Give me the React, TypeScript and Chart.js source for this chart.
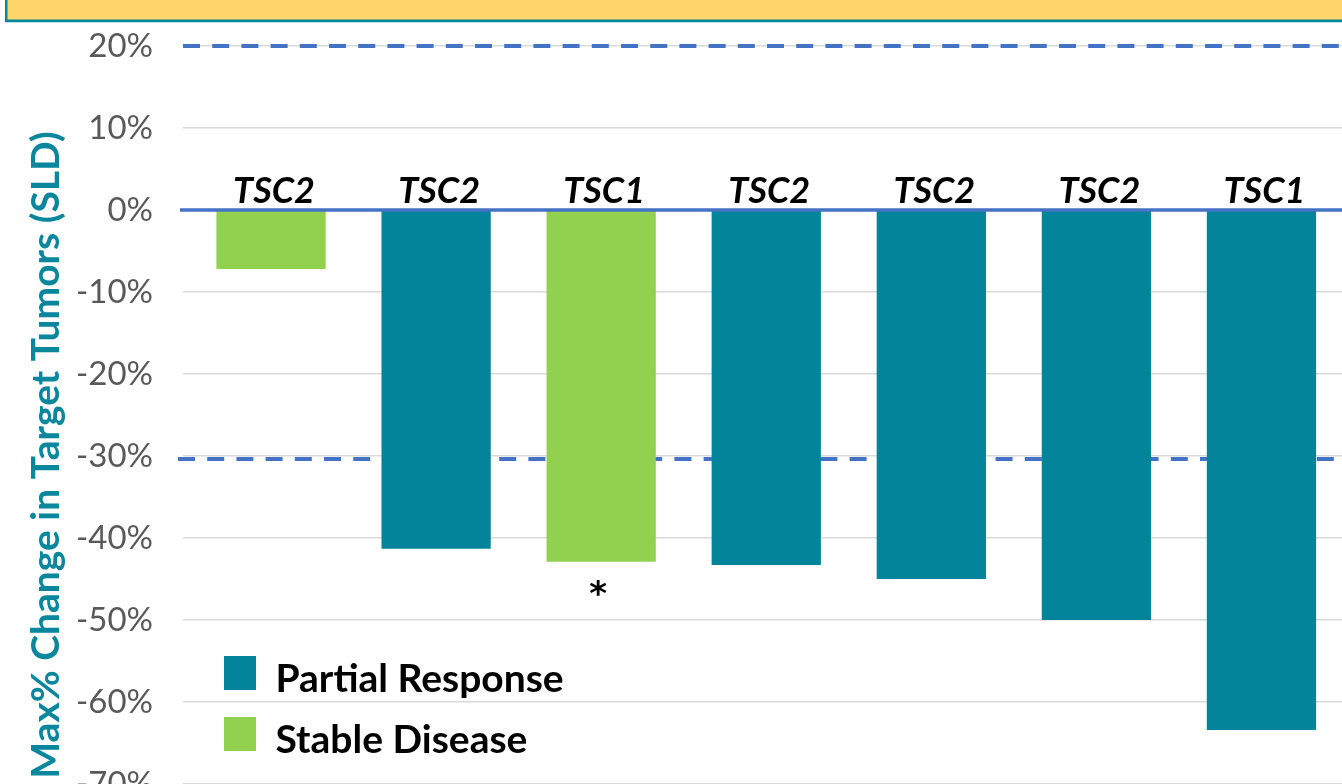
import React, { useEffect, useRef } from "react";
import { Chart, registerables } from "chart.js";

Chart.register(...registerables);

// ---- Data ----
const categories = ["Pt 1", "Pt 2", "Pt 3", "Pt 4", "Pt 5", "Pt 6", "Pt 7"];
const mutationLabels = ["TSC2", "TSC2", "TSC1", "TSC2", "TSC2", "TSC2", "TSC1"];
const partialResponse: (number | null)[] = [null, -41.3, null, -43.3, -45.0, -50.0, -63.4];
const stableDisease: (number | null)[] = [-7.2, null, -42.9, null, null, null, null];
const asteriskFlags = [false, false, true, false, false, false, false];
const legendLabels = ["Partial Response", "Stable Disease"];
const yMin = -70;
const yMax = 20;
const yStep = 10;
const referenceLines = [20, -30];
const yTitle = "Max% Change in Target Tumors (SLD)";

const TEAL = "#03849A";
const GREEN = "#92D050";
const BLUE = "#4472C4";
const FONT = "Lato, 'Open Sans', sans-serif";

const overlayPlugin = {
  id: "overlay",
  beforeDraw(chart: any) {
    const { ctx, width } = chart;
    ctx.save();
    ctx.fillStyle = "#BFE3E8";
    ctx.fillRect(5, 0, width, 23);
    ctx.fillStyle = "#0A8797";
    ctx.fillRect(5, 0, width, 22);
    ctx.fillStyle = "#FFD56C";
    ctx.fillRect(7.5, 0, width, 19.5);
    ctx.restore();
  },
  beforeDatasetsDraw(chart: any) {
    const { ctx, scales, width, chartArea } = chart;
    const y = scales.y;
    ctx.save();
    ctx.strokeStyle = BLUE;
    ctx.lineWidth = 4;
    ctx.setLineDash([17, 12.2]);
    referenceLines.forEach((v) => {
      const py = y.getPixelForValue(v) + (v < 0 ? 3 : 0);
      const startX = v < 0 ? chartArea.left - 10.5 : chartArea.left - 5.5;
      ctx.beginPath();
      ctx.moveTo(startX, py);
      ctx.lineTo(width, py);
      ctx.stroke();
    });
    ctx.restore();
  },
  afterDatasetsDraw(chart: any) {
    const { ctx, scales, width, chartArea } = chart;
    const x = scales.x;
    const y = scales.y;
    ctx.save();
    const y0 = y.getPixelForValue(0);
    ctx.strokeStyle = BLUE;
    ctx.lineWidth = 3.5;
    ctx.beginPath();
    ctx.moveTo(chartArea.left - 8.5, y0);
    ctx.lineTo(width, y0);
    ctx.stroke();

    ctx.fillStyle = "#000";
    ctx.font = `italic bold 36px ${FONT}`;
    ctx.textAlign = "center";
    ctx.textBaseline = "alphabetic";
    mutationLabels.forEach((lab, i) => {
      ctx.fillText(lab, x.getPixelForValue(i) + 3, y0 - 7);
    });

    ctx.font = `bold 34px 'DejaVu Sans', sans-serif`;
    asteriskFlags.forEach((f, i) => {
      if (!f) return;
      const v = (partialResponse[i] ?? stableDisease[i]) as number;
      ctx.fillText("*", x.getPixelForValue(i) - 3, y.getPixelForValue(v) + 43);
    });

    const colors = [TEAL, GREEN];
    ctx.textAlign = "left";
    ctx.font = `bold 39px ${FONT}`;
    legendLabels.forEach((lab, i) => {
      const top = 656 + i * 61;
      ctx.fillStyle = colors[i];
      ctx.fillRect(224, top, 32, 34);
      ctx.fillStyle = "#000";
      ctx.fillText(lab, 275.5, top + 36);
    });

    ctx.translate(59, 455);
    ctx.rotate(-Math.PI / 2);
    ctx.textAlign = "center";
    ctx.fillStyle = "#0A879C";
    ctx.font = `bold 39px ${FONT}`;
    ctx.fillText(yTitle, 0, 0);
    ctx.restore();
  },
};

export default function App() {
  const ref = useRef<HTMLCanvasElement | null>(null);

  useEffect(() => {
    document.body.style.margin = "0";
    document.body.style.overflow = "hidden";
    const canvas = ref.current;
    if (!canvas) return;
    const chart = new Chart(canvas, {
      type: "bar",
      data: {
        labels: categories,
        datasets: [
          {
            label: legendLabels[0],
            data: partialResponse,
            backgroundColor: TEAL,
            borderWidth: 0,
            grouped: false,
            barPercentage: 0.662,
            categoryPercentage: 1,
          } as any,
          {
            label: legendLabels[1],
            data: stableDisease,
            backgroundColor: GREEN,
            borderWidth: 0,
            grouped: false,
            barPercentage: 0.662,
            categoryPercentage: 1,
          } as any,
        ],
      },
      options: {
        responsive: false,
        animation: false,
        devicePixelRatio: 1,
        layout: { padding: { top: 46, bottom: 0, left: 0, right: 0 } },
        plugins: {
          legend: { display: false },
          tooltip: { enabled: false },
        },
        scales: {
          x: { display: false, offset: true },
          y: {
            min: yMin,
            max: yMax,
            ticks: {
              stepSize: yStep,
              callback: (v: any) => `${v}%`,
              color: "#595959",
              font: { family: FONT, size: 33 },
              padding: 30,
            },
            grid: { color: "#D9D9D9", lineWidth: 1.5, tickLength: 5.5, drawTicks: true },
            border: { display: false },
            afterFit: (s: any) => {
              s.width = 188.5;
              s.paddingTop = 0;
              s.paddingBottom = 0;
            },
          },
        },
      },
      plugins: [overlayPlugin],
    });
    return () => chart.destroy();
  }, []);

  return (
    <div style={{ width: 1342, height: 784, overflow: "hidden", position: "relative", background: "#fff" }}>
      <canvas ref={ref} width={1344} height={784} style={{ display: "block" }} />
    </div>
  );
}
